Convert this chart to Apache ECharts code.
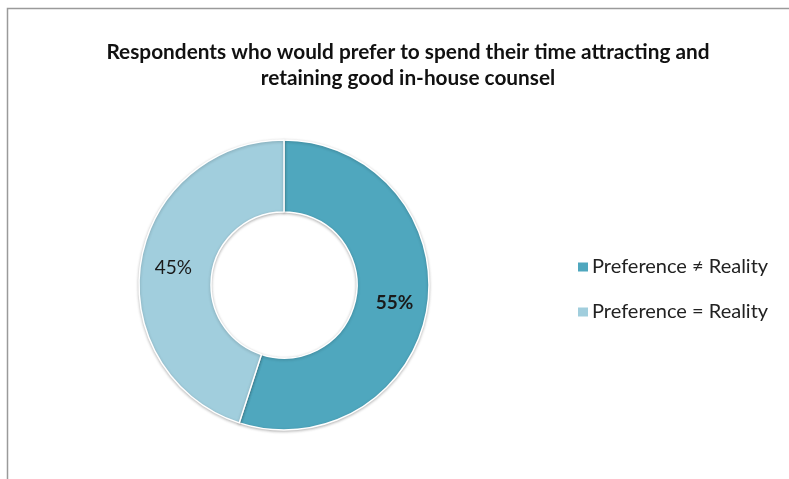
<!DOCTYPE html>
<html>
<head>
<meta charset="utf-8">
<script src="https://cdn.jsdelivr.net/npm/echarts@6/dist/echarts.min.js"></script>
<style>
  html, body { margin: 0; padding: 0; background: #fff; }
  #chart { width: 789px; height: 479px; }
</style>
</head>
<body>
<div id="chart"></div>
<script>
// Survey split: does the preferred use of time match reality?
const categories = ['Preference \u2260 Reality', 'Preference = Reality'];
const shares = [55, 45];
const sliceColors = ['#4FA7BE', '#A1CEDD'];
const labelBold = ['bold', 'normal'];

const FONT = 'Lato, "Open Sans", sans-serif';

const chart = echarts.init(document.getElementById('chart'));

chart.setOption({
  backgroundColor: '#ffffff',
  animation: false,
  title: {
    text: 'Respondents who would prefer to spend their time attracting and\nretaining good in-house counsel',
    left: 403,
    top: 34,
    textAlign: 'center',
    textStyle: {
      fontFamily: FONT,
      fontSize: 20.8,
      fontWeight: 'bold',
      color: '#111',
      lineHeight: 26
    }
  },
  legend: {
    orient: 'vertical',
    left: 571,
    top: 252,
    icon: 'rect',
    itemWidth: 12,
    itemHeight: 11,
    itemGap: 25,
    textStyle: {
      fontFamily: FONT,
      fontSize: 20,
      color: '#222',
      padding: [0, 0, 0, -2]
    },
    data: categories
  },
  graphic: [
    {
      type: 'polyline',
      shape: { points: [[7.5, 479], [7.5, 8.5], [789, 8.5]] },
      style: { stroke: '#9a9a9a', lineWidth: 1.5, fill: null }
    }
  ],
  series: [
    {
      type: 'pie',
      center: [284, 285],
      radius: [73, 145],
      startAngle: 90,
      clockwise: true,
      itemStyle: {
        borderColor: '#ffffff',
        borderWidth: 1.5,
        shadowColor: 'rgba(0,0,0,0.25)',
        shadowBlur: 3,
        shadowOffsetY: 1
      },
      label: {
        show: true,
        position: 'inside',
        formatter: '{c}%',
        fontFamily: FONT,
        fontSize: 19,
        color: '#1a1a1a'
      },
      labelLine: { show: false },
      emphasis: { disabled: true },
      data: categories.map((name, i) => ({
        name: name,
        value: shares[i],
        itemStyle: { color: sliceColors[i] },
        label: { fontWeight: labelBold[i] }
      }))
    }
  ]
});
</script>
</body>
</html>
